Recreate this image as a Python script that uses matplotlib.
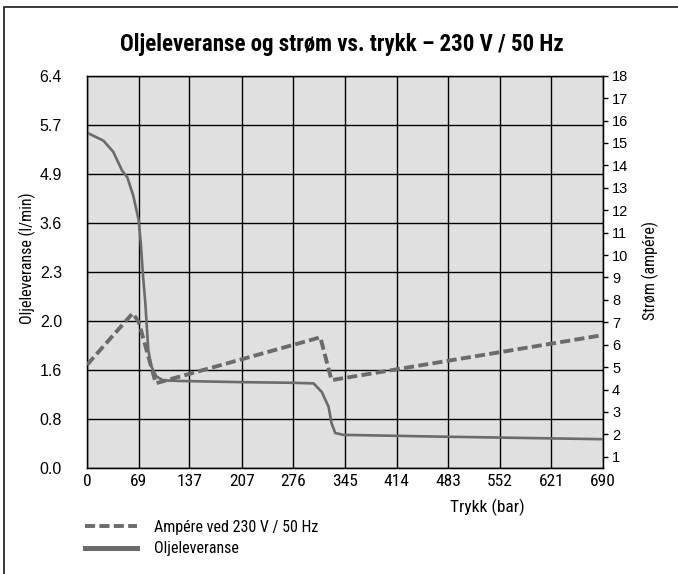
import numpy as np
import matplotlib.pyplot as plt
from matplotlib.patches import Rectangle
from matplotlib.lines import Line2D

# pressure axis (bar)
pressure_ticks = [0, 69, 137, 207, 276, 345, 414, 483, 552, 621, 690]

# left axis: oil delivery (l/min), ticks are evenly spaced but not linear
flow_ticks = [0.0, 0.8, 1.6, 2.0, 2.3, 3.6, 4.9, 5.7, 6.4]

# right axis: current (A)
amp_ticks = list(range(1, 19))

# oil delivery curve
oil_p = [0, 22, 35, 47, 54, 62, 69, 72, 75, 78, 80, 82, 86, 93, 102, 124,
         209, 276, 303, 314, 323, 327, 332, 343, 392, 481, 690]
oil_q = [5.57, 5.44, 5.26, 4.95, 4.80, 4.31, 3.68, 3.05, 2.27, 2.11, 1.95,
         1.76, 1.63, 1.49, 1.43, 1.42, 1.40, 1.39, 1.38, 1.24, 1.00, 0.73,
         0.57, 0.54, 0.53, 0.51, 0.47]

# current at 230 V / 50 Hz
amp_p = [0, 61, 69, 92, 312, 327, 690]
amp_a = [5.1, 7.4, 7.03, 4.28, 6.33, 4.42, 6.43]

narrow = ['Roboto Condensed', 'DejaVu Sans']
regular = ['Liberation Sans', 'DejaVu Sans']

grey = '#6b6b6b'
dash = (0, (2.6, 1.1))

tick_pos = np.arange(len(flow_ticks))


def fwd(v):
    return np.interp(v, flow_ticks, tick_pos)


def inv(p):
    return np.interp(p, tick_pos, flow_ticks)


fig = plt.figure(figsize=(6.78, 5.74), dpi=100)
ax = fig.add_axes([87/678, 1-468/574, 516/678, 392.3/574])
ax.set_facecolor('#e0e0e0')

ax.set_yscale('function', functions=(fwd, inv))
ax.set_ylim(0, 6.4)
ax.set_xlim(0, 690)
ax.set_yticks(flow_ticks)
ax.set_yticklabels(['%.1f' % v for v in flow_ticks], family=regular, fontsize=11.5)
ax.set_xticks(pressure_ticks)
ax.set_xticklabels([str(v) for v in pressure_ticks], family=narrow, fontsize=12.5)
ax.yaxis.set_minor_locator(plt.NullLocator())
ax.tick_params(axis='y', length=0, pad=18)
ax.tick_params(axis='x', length=0, pad=4.3)
ax.grid(True, color='black', lw=1.0)
ax.set_axisbelow(True)
for s in ax.spines.values():
    s.set_linewidth(1.0)

oil_line, = ax.plot(oil_p, oil_q, color=grey, lw=1.9, zorder=3)

ax2 = ax.twinx()
ax2.set_ylim(0.5, 18)
ax2.set_yticks(amp_ticks)
ax2.set_yticklabels([str(v) for v in amp_ticks], family=regular, fontsize=10.5)
ax2.tick_params(axis='y', direction='out', length=3.5, width=1, pad=3)
amp_line, = ax2.plot(amp_p, amp_a, color=grey, lw=2.8, ls=dash, zorder=3)

fig.text(342/678, 1-45/574, 'Oljeleveranse og strøm vs. trykk – 230 V / 50 Hz',
         ha='center', va='center', family=narrow, fontsize=16.5, weight='bold')
fig.text(27/678, 1-258/574, 'Oljeleveranse (l/min)', rotation=90,
         ha='center', va='center', family=narrow, fontsize=11.5)
fig.text(650/678, 1-271/574, 'Strøm (ampére)', rotation=90,
         ha='center', va='center', family=narrow, fontsize=11.5)
fig.text(487/678, 1-507/574, 'Trykk (bar)', ha='center', va='center',
         family=narrow, fontsize=12.5)

# legend keys (solid key is drawn a bit heavier)
keys = [Line2D([], [], color=grey, lw=2.8, ls=dash),
        Line2D([], [], color=grey, lw=3.6)]
fig.legend(handles=keys, labels=['Ampére ved 230 V / 50 Hz', 'Oljeleveranse'],
           loc='upper left', bbox_to_anchor=(85/678, 1-520/574), frameon=False,
           borderpad=0, borderaxespad=0, handlelength=3.25,
           handletextpad=1.05, labelspacing=0.4,
           prop={'family': narrow, 'size': 11.5})

# outer frame, open to the right and bottom
fig.add_artist(Rectangle((4/678, -0.2), 1.2, 1.2 - 7/574, transform=fig.transFigure,
                         fill=False, edgecolor='#3a3a3a', lw=1.4))

plt.savefig('out.png', dpi=100)
